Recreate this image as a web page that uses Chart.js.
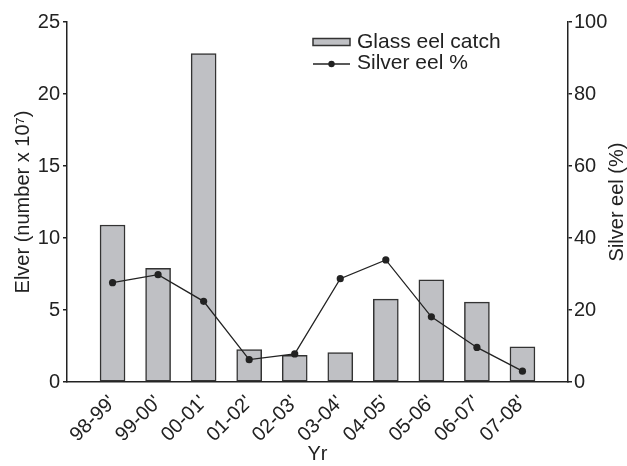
<!DOCTYPE html>
<html>
<head>
<meta charset="utf-8">
<script src="https://cdn.jsdelivr.net/npm/chart.js@4/dist/chart.umd.min.js"></script>
<style>
  html, body { margin: 0; padding: 0; background: #fff; }
  #wrap { width: 627px; height: 466px; }
</style>
</head>
<body>
<div id="wrap"><canvas id="eelChart"></canvas></div>
<script>
const years = ["98-99'", "99-00'", "00-01'", "01-02'", "02-03'", "03-04'", "04-05'", "05-06'", "06-07'", "07-08'"];
const glassEel = [10.9, 7.9, 22.8, 2.25, 1.85, 2.05, 5.75, 7.1, 5.55, 2.45];
const silverPct = [27.6, 29.8, 22.4, 6.2, 7.8, 28.7, 33.9, 18.1, 9.6, 3.0];
const leftTicks = [0, 5, 10, 15, 20, 25];
const rightTicks = [0, 20, 40, 60, 80, 100];

const FONT = "'Liberation Sans', Arial, Helvetica, sans-serif";
const INK = '#222';

Chart.defaults.font.family = FONT;
Chart.defaults.color = INK;

// legend + right-hand title drawn by hand (Chart.js rotates right titles the other way)
const extras = {
  id: 'extras',
  afterDraw(chart) {
    const ctx = chart.ctx;
    ctx.save();
    ctx.fillStyle = INK;
    ctx.font = '20px ' + FONT;
    ctx.translate(617, 202);
    ctx.rotate(-Math.PI / 2);
    ctx.textAlign = 'center';
    ctx.textBaseline = 'middle';
    ctx.fillText('Silver eel (%)', 0, 0);
    ctx.restore();

    ctx.save();
    ctx.font = '21px ' + FONT;
    ctx.textBaseline = 'middle';
    ctx.fillStyle = '#bfc0c4';
    ctx.strokeStyle = '#333';
    ctx.lineWidth = 1.5;
    ctx.fillRect(313, 38.5, 37, 7);
    ctx.strokeRect(313, 38.5, 37, 7);
    ctx.fillStyle = INK;
    ctx.fillText('Glass eel catch', 357, 42);
    ctx.beginPath();
    ctx.strokeStyle = INK;
    ctx.lineWidth = 1.3;
    ctx.moveTo(313, 64);
    ctx.lineTo(350, 64);
    ctx.stroke();
    ctx.beginPath();
    ctx.arc(331.5, 64, 3.2, 0, Math.PI * 2);
    ctx.fill();
    ctx.fillText('Silver eel %', 357, 63);
    ctx.restore();
  }
};

const ctx = document.getElementById('eelChart').getContext('2d');
new Chart(ctx, {
  data: {
    datasets: [
      {
        type: 'line',
        label: 'Silver eel %',
        data: silverPct.map((v, i) => ({ x: i, y: v })),
        yAxisID: 'y2',
        borderColor: INK,
        backgroundColor: INK,
        borderWidth: 1.3,
        pointRadius: 3.6,
        pointBorderWidth: 0,
        tension: 0,
        order: 0
      },
      {
        type: 'bar',
        label: 'Glass eel catch',
        data: glassEel.map((v, i) => ({ x: i, y: v })),
        yAxisID: 'y',
        backgroundColor: '#bfc0c4',
        borderColor: '#333',
        borderWidth: 1.5,
        borderSkipped: false,
        barThickness: 25,
        order: 1
      }
    ]
  },
  options: {
    responsive: true,
    maintainAspectRatio: false,
    animation: false,
    layout: { padding: { top: 22, left: 0, right: 0, bottom: 0 } },
    plugins: {
      legend: { display: false },
      tooltip: { enabled: false }
    },
    scales: {
      x: {
        type: 'linear',
        offset: false,
        min: -1,
        max: 10,
        afterBuildTicks(scale) {
          scale.ticks = [-1, 0, 1, 2, 3, 4, 5, 6, 7, 8, 9, 10].map(v => ({ value: v }));
        },
        afterFit(scale) { scale.height = 84; },
        ticks: {
          autoSkip: false,
          minRotation: 45,
          maxRotation: 45,
          padding: 9,
          font: { size: 20 },
          callback: v => years[v] || ''
        },
        grid: { display: false, drawTicks: false },
        border: { display: true, color: INK, width: 1.5 },
        title: {
          display: true,
          text: 'Yr',
          font: { size: 20 },
          padding: { top: 0, bottom: 0 }
        }
      },
      y: {
        position: 'left',
        min: 0,
        max: 25,
        afterBuildTicks(scale) { scale.ticks = leftTicks.map(v => ({ value: v })); },
        afterFit(scale) { scale.width = 67; },
        ticks: { padding: 3, font: { size: 20 } },
        grid: { drawOnChartArea: false, tickLength: 4, color: INK, lineWidth: 1.5 },
        border: { display: true, color: INK, width: 1.5 },
        title: {
          display: true,
          text: 'Elver (number x 10\u2077)',
          font: { size: 20 },
          padding: { top: 11 }
        }
      },
      y2: {
        position: 'right',
        min: 0,
        max: 100,
        afterBuildTicks(scale) { scale.ticks = rightTicks.map(v => ({ value: v })); },
        afterFit(scale) { scale.width = 59; },
        ticks: { padding: 2, font: { size: 20 } },
        grid: { drawOnChartArea: false, tickLength: 4, color: INK, lineWidth: 1.5 },
        border: { display: true, color: INK, width: 1.5 }
      }
    }
  },
  plugins: [extras]
});
</script>
</body>
</html>
